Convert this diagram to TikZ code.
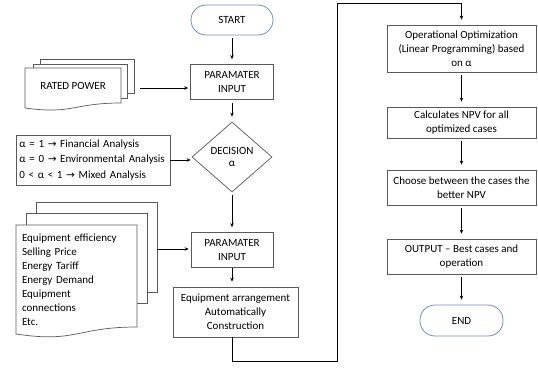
\documentclass[tikz,border=0pt]{standalone}
\usepackage{amsmath}
\usepackage{fontspec}
\setmainfont{Carlito}
\newfontfamily\arrowfont{DejaVu Sans}[Scale=0.95]
\newcommand{\ra}{{\arrowfont →}}
\usetikzlibrary{shapes.geometric,arrows.meta}
\definecolor{termblue}{RGB}{112,140,196}
\definecolor{boxgray}{RGB}{90,90,90}
\begin{document}
\begin{tikzpicture}[x=1pt,y=-1pt,>={Stealth[length=4pt,width=3.5pt]}]
        \tikzstyle{every node} = [font=\fontsize{11}{14.5}\selectfont]
        \tikzstyle{procbox} = [rectangle, draw=boxgray, line width=0.7pt, align=center, inner sep=2pt]
        \tikzstyle{terminal} = [rectangle, rounded corners=15pt, draw=termblue, line width=0.8pt, minimum width=82pt, minimum height=30pt]
        \tikzstyle{decision} = [diamond, draw=boxgray, line width=0.7pt, align=center, inner sep=0pt, minimum width=80pt, minimum height=70pt, font=\fontsize{11}{12.5}\selectfont]
        \tikzstyle{docline} = [draw=boxgray, line width=0.7pt]
        \tikzstyle{flow} = [->, line width=0.7pt, shorten <=3pt, shorten >=5pt]
        \useasboundingbox (0,0) rectangle (538,367);
        % left column
        \node[terminal] (start) at (232,20) {START};
        \node[procbox, minimum width=83pt, minimum height=35pt] (param1) at (232,82) {PARAMATER\\INPUT};
        \node[decision] (decide) at (232,157) {DECISION\\α};
        \node[procbox, minimum width=82pt, minimum height=35pt] (param2) at (232,250) {PARAMATER\\INPUT};
        \node[procbox, minimum width=125pt, minimum height=50pt, font=\fontsize{11}{14}\selectfont] (equip) at (235.5,312) {Equipment arrangement\\Automatically\\Construction};
        % inputs
        \node[procbox, align=left, minimum width=154pt, minimum height=50pt, text width=147pt, font=\fontsize{11}{15.5}\selectfont] (alpha) at (93,160) {α = 1 \ra{} Financial Analysis\\α = 0 \ra{} Environmental Analysis\\0 < α < 1 \ra{} Mixed Analysis};
        \foreach \lx/\ly/\ny/\nr in {40/59/64/127, 33/64/68/121}
            \draw[docline] (\lx,\ny) -- (\lx,\ly) -- ++(94,0) -- ++(0,34) -- (\nr,\ly+34);
        \draw[docline] (25,68) -- ++(96,0) -- ++(0,35) .. controls +(-48,0) and +(48,6.6) .. (25,108) -- cycle;
        \node (rated) at (73,86) {RATED POWER};
        \foreach \lx/\ly/\ny/\nr in {36/202/213/147, 26/213/225/137}
            \draw[docline] (\lx,\ny) -- (\lx,\ly) -- ++(121,0) -- ++(0,90) -- (\nr,\ly+90);
        \draw[docline] (16,225) -- ++(121,0) -- ++(0,102) .. controls +(-60.5,0) and +(60.5,9.2) .. (16,334) -- cycle;
        \node[align=left, text width=116pt, inner sep=0pt, font=\fontsize{11}{14}\selectfont] (inputdata) at (80,280) {Equipment efficiency\\Selling Price\\Energy Tariff\\Energy Demand\\Equipment\\connections\\Etc.};
        \coordinate (ratedout) at (140,88);
        \coordinate (dataout) at (157,249);
        % right column
        \node[procbox, minimum width=149pt, minimum height=47pt, font=\fontsize{11}{14}\selectfont] (optim) at (461.5,48.5) {Operational Optimization\\(Linear Programming) based\\on α};
        \node[procbox, minimum width=149pt, minimum height=31pt, font=\fontsize{11}{14}\selectfont] (npv) at (461.5,122.5) {Calculates NPV for all\\optimized cases};
        \node[procbox, minimum width=149pt, minimum height=35pt, font=\fontsize{11}{14}\selectfont] (choose) at (461.5,187.5) {Choose between the cases the\\better NPV};
        \node[procbox, minimum width=149pt, minimum height=35pt, font=\fontsize{11}{14}\selectfont] (output) at (461.5,256.5) {OUTPUT -- Best cases and\\operation};
        \node[terminal, minimum width=83pt, minimum height=31pt] (finish) at (461.5,320.5) {END};
        \coordinate (lowturn) at (337,361);
        \coordinate (topturn) at (337,3);
        % connectors
        \foreach \from/\to in {start/param1, param1/decide, decide/param2, optim/npv, npv/choose, choose/output, output/finish}
            \draw[flow] (\from) -- (\to);
        \draw[flow, shorten <=0pt] (param2.south) -- (param2.south |- equip.north);
        \draw[flow, shorten <=0pt, shorten >=2pt] (ratedout) -- (ratedout -| param1.west);
        \draw[flow, shorten <=0pt, shorten >=2pt] (dataout) -- (dataout -| param2.west);
        \draw[flow, shorten <=0pt, shorten >=1pt] (alpha.east) -- (alpha.east -| decide.west);
        \draw[flow, shorten <=0pt] (param2.south |- equip.south) |- (lowturn) -- (topturn) -| (optim.north);
\end{tikzpicture}
\end{document}
